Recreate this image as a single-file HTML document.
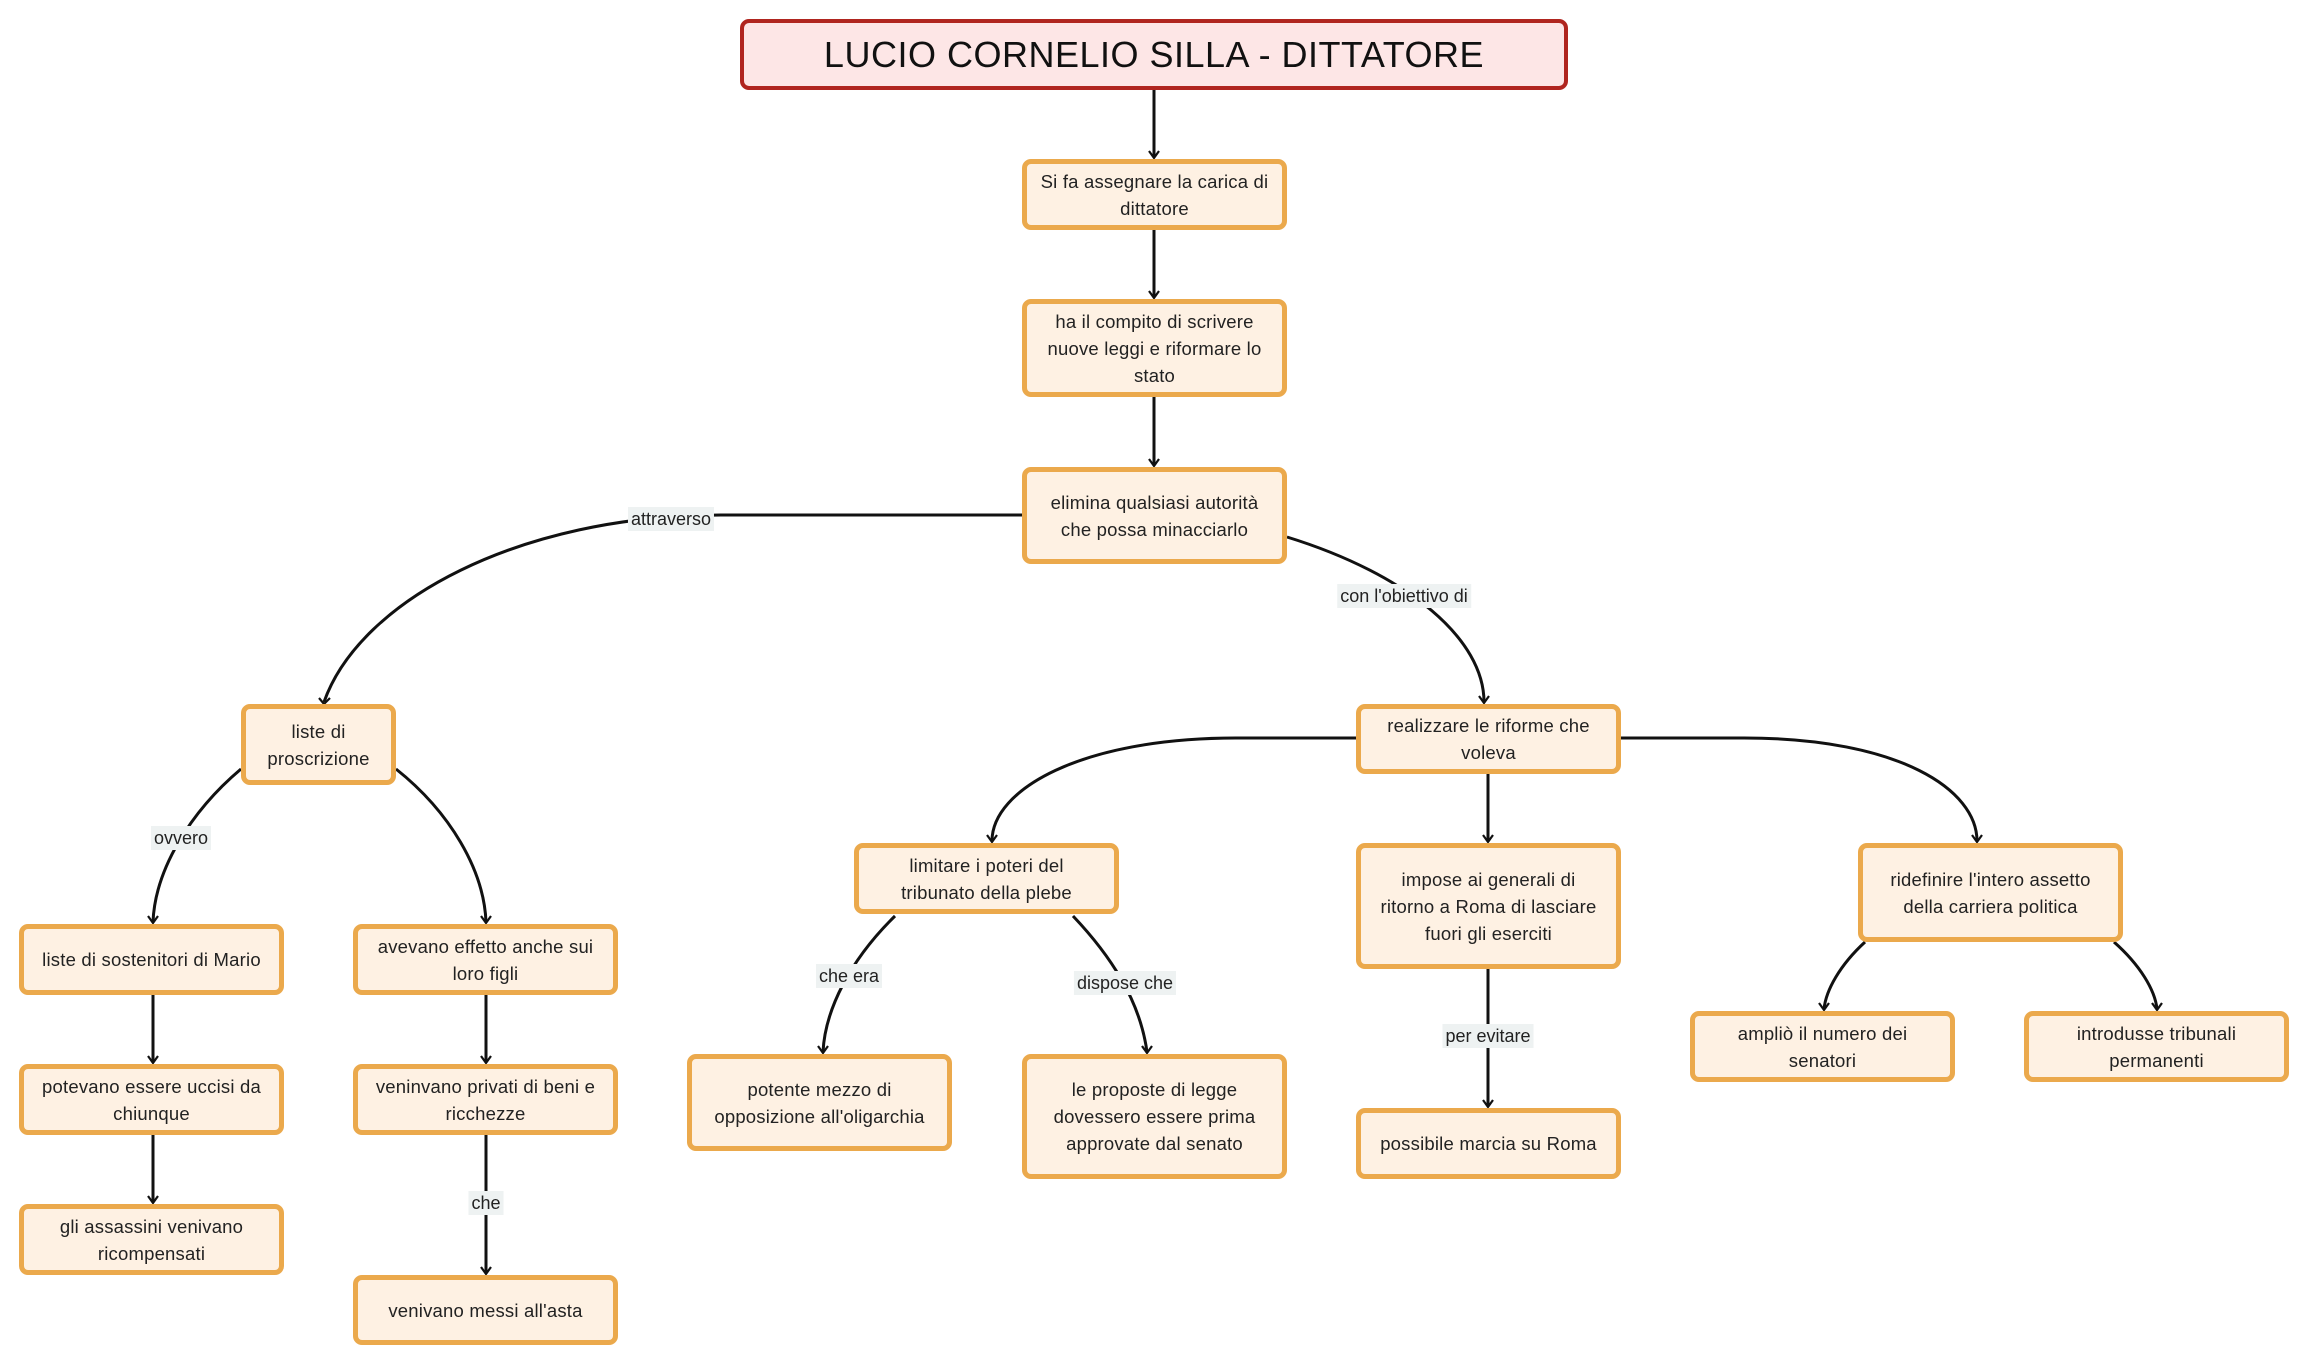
<!DOCTYPE html>
<html><head><meta charset="utf-8"><style>
body{margin:0;width:2308px;height:1364px;background:#fff;position:relative;overflow:hidden;font-family:"Liberation Sans",sans-serif}
.n{position:absolute;box-sizing:border-box;border:5px solid #eba94c;background:#fef1e3;border-radius:9px;display:flex;align-items:center;justify-content:center;text-align:center;font-size:18.5px;line-height:27px;color:#222;padding:0 10px;letter-spacing:0.2px}
.t{position:absolute;left:740px;top:19px;width:828px;height:71px;box-sizing:border-box;border:4.5px solid #b0251f;background:#fde6e6;border-radius:9px;display:flex;align-items:center;justify-content:center;font-size:36px;color:#111;letter-spacing:0.5px}
.l{position:absolute;transform:translate(-50%,-50%);background:#eef2f2;font-size:18px;color:#222;padding:1px 3px;line-height:22px;white-space:nowrap}
svg{position:absolute;left:0;top:0}
</style></head><body>
<svg width="2308" height="1364">
<g fill="none" stroke="#111" stroke-width="3">
<path d="M1154,90 L1154,157"/>
<path d="M1154,230 L1154,297"/>
<path d="M1154,397 L1154,465"/>
<path d="M1022,515 L721,515 C520,515 360,600 324,702"/>
<path d="M1287,537 C1410,575 1484,640 1484,702"/>
<path d="M241,769 C190,812 155,870 153,922"/>
<path d="M396,769 C450,812 484,870 486,922"/>
<path d="M153,995 L153,1062"/>
<path d="M153,1135 L153,1202"/>
<path d="M486,995 L486,1062"/>
<path d="M486,1135 L486,1273"/>
<path d="M1356,738 L1236,738 C1080,738 992,790 992,841"/>
<path d="M1488,774 L1488,841"/>
<path d="M1621,738 L1744,738 C1900,738 1977,790 1977,841"/>
<path d="M895,916 C850,960 825,1010 823,1052"/>
<path d="M1073,916 C1110,955 1140,1000 1147,1052"/>
<path d="M1488,969 L1488,1106"/>
<path d="M1865,942 C1840,965 1826,990 1824,1009"/>
<path d="M2114,942 C2140,965 2155,990 2157,1009"/>
</g>
<g stroke="#111" stroke-width="2.2" fill="none">
<path d="M1149,151 L1154,158 L1159,151"/><path d="M1149,291 L1154,298 L1159,291"/><path d="M1149,459 L1154,466 L1159,459"/>
<path d="M319,698 L324,704 L330,698"/><path d="M1479,696 L1484,703 L1489,696"/>
<path d="M148,916 L153,923 L158,916"/><path d="M481,916 L486,923 L491,916"/>
<path d="M148,1056 L153,1063 L158,1056"/><path d="M148,1196 L153,1203 L158,1196"/>
<path d="M481,1056 L486,1063 L491,1056"/><path d="M481,1267 L486,1274 L491,1267"/>
<path d="M987,835 L992,842 L997,835"/><path d="M1483,835 L1488,842 L1493,835"/><path d="M1972,835 L1977,842 L1982,835"/>
<path d="M818,1046 L823,1053 L828,1046"/><path d="M1142,1046 L1147,1053 L1152,1046"/>
<path d="M1483,1100 L1488,1107 L1493,1100"/><path d="M1819,1003 L1824,1010 L1829,1003"/><path d="M2152,1003 L2157,1010 L2162,1003"/>
</g>
</svg>
<div class="t">LUCIO CORNELIO SILLA - DITTATORE</div>
<div class="n" style="left:1022px;top:159px;width:265px;height:71px">Si fa assegnare la carica di dittatore</div>
<div class="n" style="left:1022px;top:299px;width:265px;height:98px">ha il compito di scrivere nuove leggi e riformare lo stato</div>
<div class="n" style="left:1022px;top:467px;width:265px;height:97px">elimina qualsiasi autorità che possa minacciarlo</div>
<div class="n" style="left:241px;top:704px;width:155px;height:81px">liste di<br>proscrizione</div>
<div class="n" style="left:19px;top:924px;width:265px;height:71px">liste di sostenitori di Mario</div>
<div class="n" style="left:19px;top:1064px;width:265px;height:71px">potevano essere uccisi da<br>chiunque</div>
<div class="n" style="left:19px;top:1204px;width:265px;height:71px">gli assassini venivano<br>ricompensati</div>
<div class="n" style="left:353px;top:924px;width:265px;height:71px">avevano effetto anche sui<br>loro figli</div>
<div class="n" style="left:353px;top:1064px;width:265px;height:71px">veninvano privati di beni e<br>ricchezze</div>
<div class="n" style="left:353px;top:1275px;width:265px;height:70px">venivano messi all'asta</div>
<div class="n" style="left:1356px;top:704px;width:265px;height:70px">realizzare le riforme che<br>voleva</div>
<div class="n" style="left:854px;top:843px;width:265px;height:71px">limitare i poteri del<br>tribunato della plebe</div>
<div class="n" style="left:1356px;top:843px;width:265px;height:126px">impose ai generali di<br>ritorno a Roma di lasciare<br>fuori gli eserciti</div>
<div class="n" style="left:1858px;top:843px;width:265px;height:99px">ridefinire l'intero assetto<br>della carriera politica</div>
<div class="n" style="left:687px;top:1054px;width:265px;height:97px">potente mezzo di<br>opposizione all'oligarchia</div>
<div class="n" style="left:1022px;top:1054px;width:265px;height:125px">le proposte di legge<br>dovessero essere prima<br>approvate dal senato</div>
<div class="n" style="left:1356px;top:1108px;width:265px;height:71px">possibile marcia su Roma</div>
<div class="n" style="left:1690px;top:1011px;width:265px;height:71px">ampliò il numero dei<br>senatori</div>
<div class="n" style="left:2024px;top:1011px;width:265px;height:71px">introdusse tribunali<br>permanenti</div>
<div class="l" style="left:671px;top:519px">attraverso</div>
<div class="l" style="left:1404px;top:596px">con l'obiettivo di</div>
<div class="l" style="left:181px;top:838px">ovvero</div>
<div class="l" style="left:486px;top:1203px">che</div>
<div class="l" style="left:849px;top:976px">che era</div>
<div class="l" style="left:1125px;top:983px">dispose che</div>
<div class="l" style="left:1488px;top:1036px">per evitare</div>
</body></html>
